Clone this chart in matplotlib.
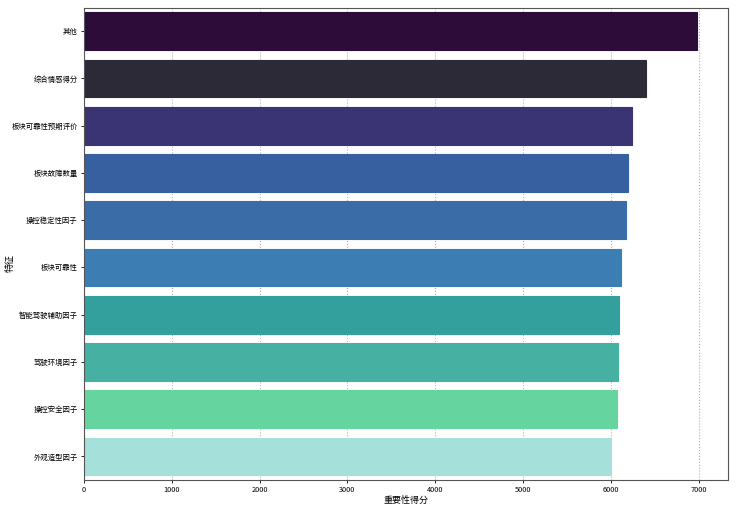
import matplotlib
matplotlib.use("Agg")
import matplotlib.pyplot as plt
import numpy as np

features = ['其他', '综合情感得分', '板块可靠性预期评价', '板块故障数量', '操控稳定性因子',
            '板块可靠性', '智能驾驶辅助因子', '驾驶环境因子', '操控安全因子', '外观造型因子']
scores = [6985, 6402, 6243, 6192, 6178, 6112, 6089, 6078, 6072, 6006]

plt.rcParams['font.family'] = ['Noto Sans CJK SC', 'DejaVu Sans']
plt.rcParams['axes.unicode_minus'] = False

# colours, dark to light
colors = ['#2d0c3a', '#2c2a36', '#3b3474', '#3660a0', '#3a6da8', '#3c7eb4',
          '#33a09d', '#46b0a3', '#66d49e', '#a6e0da']

fig = plt.figure(figsize=(7.36, 5.08), dpi=100)
ax = fig.add_axes([0.114, 0.055, 0.875, 0.930])

y = np.arange(len(features))
ax.barh(y, scores, height=0.8, color=colors, edgecolor=colors, linewidth=0.8, zorder=2)

ax.set_yticks(y)
ax.set_yticklabels(features, fontsize=5.3)
ax.set_ylim(len(features) - 0.5, -0.5)
ax.set_xticks(np.arange(0, 7001, 1000))
ax.tick_params(axis='x', labelsize=5.3, length=2.5, width=0.6, pad=2)
ax.tick_params(axis='y', length=2.5, width=0.6, pad=2)

ax.grid(axis='x', linestyle=':', color='#b0b0b0', linewidth=0.8, zorder=0)
ax.set_axisbelow(True)
for s in ax.spines.values():
    s.set_color('#555555')
    s.set_linewidth(0.8)

ax.set_xlabel('重要性得分', fontsize=6.5, labelpad=1)
ax.set_ylabel('特征', fontsize=6.5)
ax.yaxis.set_label_coords(-0.108, 0.46)

plt.savefig('out.png', dpi=100)
plt.close()
